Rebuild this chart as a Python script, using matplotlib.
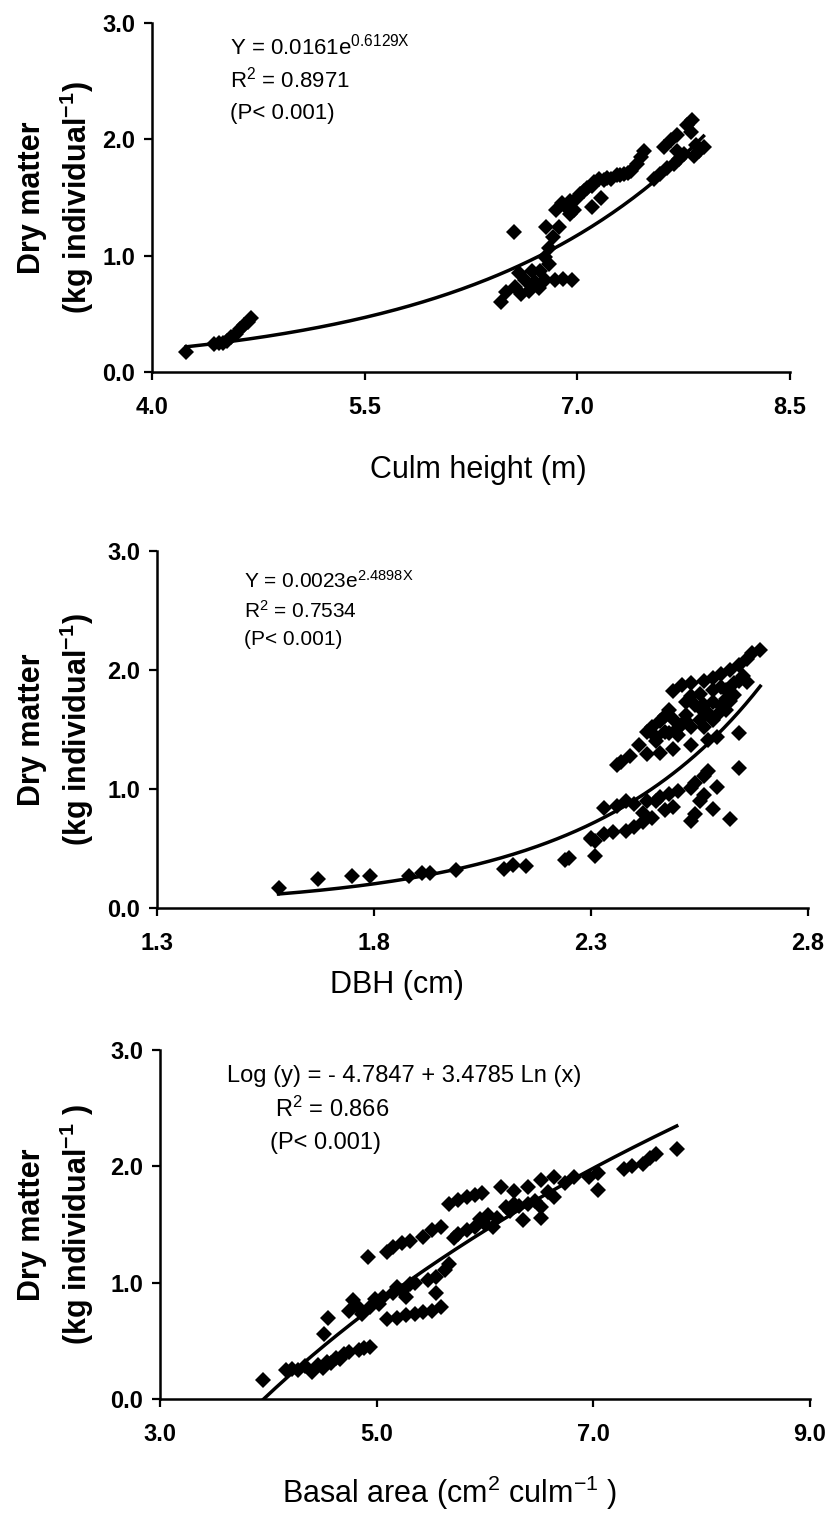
import numpy as np
import matplotlib
matplotlib.use("Agg")
import matplotlib.pyplot as plt
from matplotlib.ticker import FormatStrFormatter

plt.rcParams['font.family'] = ['Liberation Sans', 'DejaVu Sans']
plt.rcParams['mathtext.fontset'] = 'custom'
plt.rcParams['mathtext.rm'] = 'Liberation Sans'
plt.rcParams['mathtext.it'] = 'Liberation Sans:italic'
plt.rcParams['mathtext.bf'] = 'Liberation Sans:bold'

# Panel 1: culm height (m) vs dry matter (kg individual-1)
height = [4.24, 4.44, 4.47, 4.50, 4.53, 4.56, 4.59, 4.62, 4.65, 4.68, 4.70,
          6.46, 6.50, 6.55, 6.56, 6.59, 6.60, 6.63, 6.66, 6.68, 6.70,
          6.73, 6.74, 6.77, 6.77, 6.78, 6.80, 6.80, 6.83, 6.84, 6.85,
          6.87, 6.89, 6.90, 6.95, 6.95, 6.96, 6.98, 7.00, 7.05, 7.10,
          7.10, 7.15, 7.17, 7.19, 7.24, 7.28, 7.33, 7.38, 7.42, 7.45,
          7.47, 7.54, 7.58, 7.61, 7.63, 7.66, 7.68, 7.70, 7.70, 7.75,
          7.77, 7.80, 7.81, 7.82, 7.86, 7.89,
          6.92, 7.02, 7.07, 7.12, 7.21, 7.30, 7.36, 7.72, 7.84]
dm_height = [0.17, 0.24, 0.25, 0.25, 0.27, 0.30, 0.33, 0.37, 0.40, 0.43, 0.46,
             0.60, 0.69, 1.20, 0.73, 0.85, 0.67, 0.79, 0.70, 0.87, 0.77,
             0.72, 0.87, 0.99, 0.79, 1.25, 1.07, 0.93, 1.16, 0.79, 1.39,
             1.25, 1.45, 0.80, 1.47, 1.36, 0.79, 1.39, 1.50, 1.56, 1.60,
             1.42, 1.66, 1.50, 1.65, 1.66, 1.69, 1.70, 1.73, 1.79, 1.85,
             1.90, 1.66, 1.70, 1.93, 1.75, 1.99, 1.79, 2.04, 1.90, 1.87,
             2.12, 2.06, 2.17, 1.86, 1.90, 1.93,
             1.42, 1.53, 1.58, 1.63, 1.67, 1.69, 1.71, 1.83, 1.95]

# Panel 2: DBH (cm)
dbh = [1.58, 1.67, 1.75, 1.79, 1.88, 1.91, 1.93, 1.99, 2.10, 2.12, 2.15,
       2.24, 2.25, 2.31, 2.30, 2.31,
       2.30, 2.33, 2.35, 2.38, 2.40, 2.42, 2.44, 2.47, 2.53, 2.54, 2.58, 2.62,
       2.55, 2.33, 2.38, 2.40, 2.43, 2.45, 2.46, 2.48, 2.50, 2.53, 2.54, 2.56,
       2.57, 2.64,
       2.36, 2.37, 2.39, 2.41, 2.43, 2.46, 2.49, 2.53, 2.57, 2.59, 2.64, 2.48,
       2.47, 2.45, 2.43, 2.44, 2.52, 2.53, 2.50, 2.49, 2.46, 2.47, 2.48, 2.55,
       2.58, 2.59, 2.61,
       2.52, 2.54, 2.56, 2.58, 2.61, 2.63, 2.53, 2.55, 2.58, 2.60, 2.63, 2.64,
       2.49, 2.51, 2.53, 2.56, 2.58, 2.60, 2.62, 2.64, 2.66, 2.67, 2.69,
       2.45, 2.50, 2.52, 2.55, 2.57, 2.60, 2.62, 2.51, 2.56, 2.61, 2.65, 2.66,
       2.36, 2.42, 2.49, 2.56, 2.59]
dm_dbh = [0.17, 0.24, 0.27, 0.27, 0.27, 0.29, 0.29, 0.32, 0.33, 0.36, 0.35,
          0.40, 0.42, 0.44, 0.58, 0.56,
          0.59, 0.62, 0.64, 0.65, 0.68, 0.72, 0.76, 0.82, 0.73, 0.79, 0.83, 0.75,
          0.90, 0.84, 0.90, 0.87, 0.90, 0.90, 0.93, 0.96, 0.98, 1.01, 1.05, 1.11,
          1.15, 1.18,
          1.20, 1.23, 1.28, 1.37, 1.29, 1.30, 1.34, 1.37, 1.41, 1.44, 1.47, 1.47,
          1.48, 1.44, 1.48, 1.52, 1.57, 1.52, 1.51, 1.59, 1.57, 1.61, 1.66, 1.58,
          1.58, 1.62, 1.66,
          1.73, 1.71, 1.71, 1.73, 1.76, 1.79, 1.78, 1.80, 1.83, 1.86, 1.89, 1.91,
          1.82, 1.87, 1.89, 1.91, 1.93, 1.97, 2.00, 2.04, 2.09, 2.14, 2.17,
          1.40, 1.45, 1.62, 1.68, 1.64, 1.70, 1.74, 1.55, 1.52, 1.83, 1.95, 1.90,
          0.86, 0.80, 0.85, 0.95, 1.02]

# Panel 3: basal area (cm2 culm-1)
basal = [3.95, 4.16, 4.22, 4.27, 4.34, 4.40, 4.46, 4.50, 4.54, 4.58, 4.62,
         4.66, 4.70, 4.74, 4.84, 4.88, 4.94, 4.51, 4.55, 4.74, 4.78, 4.86,
         4.94, 5.02, 5.06, 5.15, 5.23, 5.27, 5.31, 5.47, 5.55, 5.63, 5.67,
         5.10, 5.19, 5.27, 5.35, 5.43, 5.51, 5.59, 5.55,
         4.92, 5.10, 5.15, 5.23, 5.31, 5.43, 5.51, 5.59, 5.67, 5.75, 5.83,
         5.91, 5.97,
         5.71, 5.75, 5.83, 5.91, 5.99, 6.07, 6.11, 6.19, 6.27, 6.35, 6.40,
         6.52, 6.52, 6.64,
         6.15, 6.27, 6.40, 6.52, 6.64, 6.82, 6.96, 7.04, 7.04, 7.28, 7.46,
         7.52, 7.58, 7.77,
         4.82, 4.98, 5.19, 5.35, 5.95, 6.03, 6.23, 6.31, 6.46, 6.58, 6.74, 7.36]
dm_basal = [0.16, 0.25, 0.26, 0.25, 0.28, 0.23, 0.29, 0.27, 0.32, 0.31, 0.35,
            0.34, 0.39, 0.40, 0.42, 0.44, 0.45, 0.56, 0.70, 0.76, 0.85, 0.73,
            0.79, 0.82, 0.88, 0.91, 0.93, 0.88, 0.99, 1.02, 1.05, 1.11, 1.16,
            0.69, 0.70, 0.72, 0.73, 0.75, 0.76, 0.79, 0.91,
            1.22, 1.26, 1.31, 1.34, 1.36, 1.39, 1.45, 1.48, 1.68, 1.71, 1.74,
            1.75, 1.77,
            1.38, 1.42, 1.45, 1.48, 1.51, 1.48, 1.56, 1.65, 1.68, 1.54, 1.68,
            1.56, 1.65, 1.74,
            1.82, 1.79, 1.82, 1.88, 1.91, 1.91, 1.91, 1.94, 1.80, 1.98, 2.02,
            2.07, 2.11, 2.15,
            0.80, 0.86, 0.96, 1.00, 1.55, 1.58, 1.62, 1.66, 1.70, 1.78, 1.86, 2.00]

# fitted equations printed on the chart
exp1_a, exp1_b = 0.0161, 0.6129
exp2_a, exp2_b = 0.0023, 2.4898
log3_a, log3_b = -4.7847, 3.4785

W, H = 830, 1515
fig = plt.figure(figsize=(W / 100, H / 100), dpi=100)


def px_rect(left, top, right, bottom):
    return [left / W, 1 - bottom / H, (right - left) / W, (bottom - top) / H]


def style(ax, xlim, xticks):
    ax.set_xlim(*xlim)
    ax.set_ylim(0, 3)
    ax.set_xticks(xticks)
    ax.set_yticks([0, 1, 2, 3])
    ax.xaxis.set_major_formatter(FormatStrFormatter('%.1f'))
    ax.yaxis.set_major_formatter(FormatStrFormatter('%.1f'))
    for s in ['top', 'right']:
        ax.spines[s].set_visible(False)
    for s in ['left', 'bottom']:
        ax.spines[s].set_linewidth(1.8)
    ax.tick_params(direction='out', length=6, width=1.6, labelsize=17)
    ax.tick_params(axis='x', pad=11)
    ax.tick_params(axis='y', pad=6)
    for lab in ax.get_xticklabels() + ax.get_yticklabels():
        lab.set_fontweight('bold')


def ylabels(ax, suffix=''):
    pos = ax.get_position()
    yc = (pos.y0 + pos.y1) / 2
    fig.text(32 / W, yc, 'Dry matter', rotation=90, ha='center', va='center',
             fontsize=22, fontweight='bold')
    fig.text(77 / W, yc, r'(kg individual$^{\mathbf{-1}}$' + suffix + ')',
             rotation=90, ha='center', va='center', fontsize=22, fontweight='bold')


def scatter(ax, x, y):
    ax.plot(x, y, linestyle='none', marker='D', markersize=8.5,
            color='black', markeredgewidth=0, zorder=3)


# ---- Panel 1
ax1 = fig.add_axes(px_rect(152, 23, 790, 372))
scatter(ax1, height, dm_height)
xs = np.linspace(min(height), max(height), 200)
ax1.plot(xs, exp1_a * np.exp(exp1_b * xs), color='black', lw=2.5, zorder=2)
style(ax1, (4.0, 8.5), [4.0, 5.5, 7.0, 8.5])
ylabels(ax1)
ax1.text(4.55, 2.80, r'Y = 0.0161e$^{\mathrm{0.6129X}}$', fontsize=16, va='center')
ax1.text(4.55, 2.51, r'R$^{\mathrm{2}}$ = 0.8971', fontsize=16, va='center')
ax1.text(4.55, 2.22, '(P< 0.001)', fontsize=16, va='center')
fig.text(478 / W, 1 - 470 / H, 'Culm height (m)',
         ha='center', va='center', fontsize=22)

# ---- Panel 2
ax2 = fig.add_axes(px_rect(157, 551, 808, 908))
scatter(ax2, dbh, dm_dbh)
xs = np.linspace(min(dbh), max(dbh), 200)
ax2.plot(xs, exp2_a * np.exp(exp2_b * xs), color='black', lw=2.5, zorder=2)
style(ax2, (1.3, 2.8), [1.3, 1.8, 2.3, 2.8])
ylabels(ax2)
ax2.text(1.50, 2.75, r'Y = 0.0023e$^{\mathrm{2.4898X}}$', fontsize=15, va='center')
ax2.text(1.50, 2.50, r'R$^{\mathrm{2}}$ = 0.7534', fontsize=15, va='center')
ax2.text(1.50, 2.26, '(P< 0.001)', fontsize=15, va='center')
fig.text(397 / W, 1 - 985 / H, 'DBH (cm)',
         ha='center', va='center', fontsize=22)

# ---- Panel 3
ax3 = fig.add_axes(px_rect(160, 1050, 810, 1399))
scatter(ax3, basal, dm_basal)
xs = np.linspace(min(basal), max(basal), 200)
ax3.plot(xs, log3_a + log3_b * np.log(xs), color='black', lw=2.5, zorder=2)
style(ax3, (3.0, 9.0), [3.0, 5.0, 7.0, 9.0])
ylabels(ax3, ' ')
ax3.text(3.62, 2.78, 'Log (y) = - 4.7847 + 3.4785 Ln (x)', fontsize=17, va='center')
ax3.text(4.06, 2.49, r'R$^{\mathrm{2}}$ = 0.866', fontsize=17, va='center')
ax3.text(4.02, 2.20, '(P< 0.001)', fontsize=17, va='center')
fig.text(450 / W, 1 - 1493 / H,
         r'Basal area (cm$^{\mathrm{2}}$ culm$^{\mathrm{-1}}$ )',
         ha='center', va='center', fontsize=22)

fig.savefig('out.png', dpi=100)
